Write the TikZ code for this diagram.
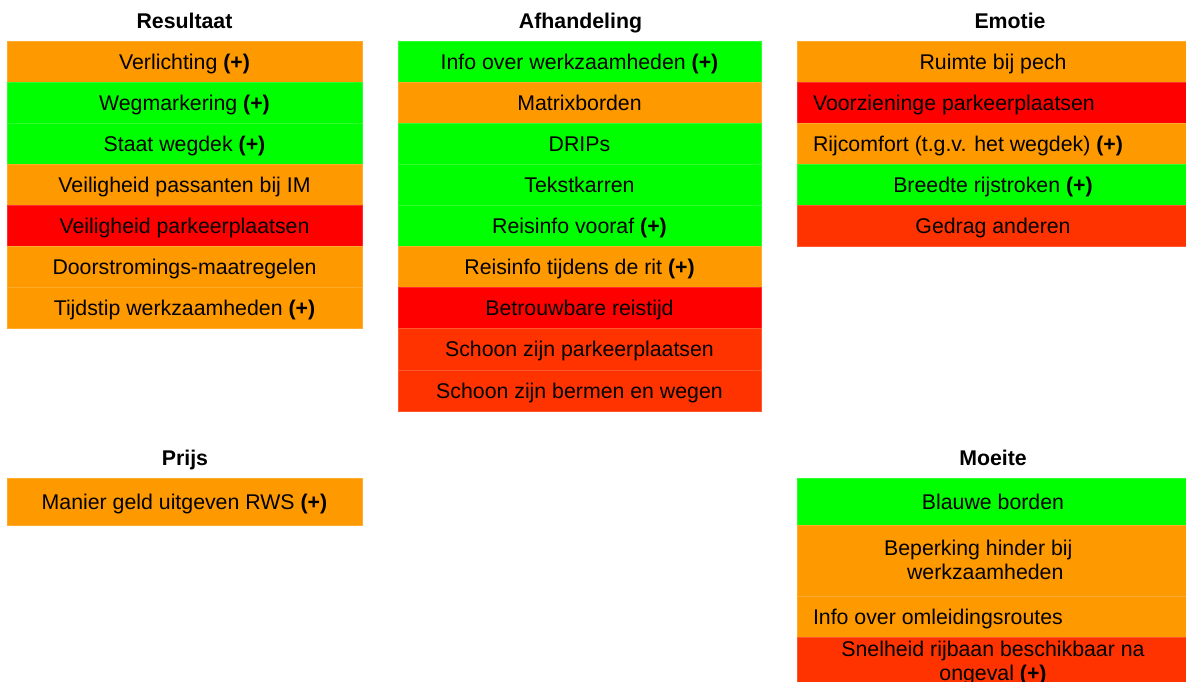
\documentclass[tikz,border=0pt]{standalone}
\usepackage{fontspec}
\setmainfont{Liberation Sans}
\definecolor{cOr}{HTML}{FF9900}
\definecolor{cGr}{HTML}{00FF00}
\definecolor{cRd}{HTML}{FF0000}
\definecolor{cRo}{HTML}{FF3300}
\tikzset{
  cellbox/.style={rectangle, fill=#1, draw=#1!82!white, line width=0.5pt,
    inner sep=0pt, outer sep=0pt, text height=15.3pt, text depth=0pt,
    font=\fontsize{21.3}{24}\selectfont, text=black},
  colL/.style={minimum width=355pt, minimum height=41.1pt},
  colM/.style={minimum width=363pt, minimum height=41.1pt},
  colR/.style={minimum width=392pt, minimum height=41.1pt},
  title/.style={anchor=base, inner sep=0pt, font=\fontsize{21.3}{24}\selectfont\bfseries},
  multitext/.style={anchor=north, inner sep=0pt, align=center, font=\fontsize{21.3}{24}\selectfont}
}
\begin{document}
\begin{tikzpicture}[x=1pt,y=-1pt]
\useasboundingbox (0,0) rectangle (1186,681);
\fill[white] (0,0) rectangle (1186,681);
\begin{scope}
\clip (0,0) rectangle (1186,681);
% Titles
\node[title] (tRes) at (184.5,28) {Resultaat};
\node[title] (tAfh) at (580.5,28) {Afhandeling};
\node[title] (tEmo) at (1010,28) {Emotie};
\node[title] (tPrijs) at (185,465) {Prijs};
\node[title] (tMoe) at (993,465) {Moeite};
% Resultaat
\node[cellbox=cOr, colL] (r1) at (184.5,61.55) {Verlichting \textbf{(+)}};
\node[cellbox=cGr, colL] (r2) at (184.5,102.65) {Wegmarkering \textbf{(+)}};
\node[cellbox=cGr, colL] (r3) at (184.5,143.75) {Staat wegdek \textbf{(+)}};
\node[cellbox=cOr, colL] (r4) at (184.5,184.85) {Veiligheid passanten bij IM};
\node[cellbox=cRd, colL] (r5) at (184.5,225.95) {Veiligheid parkeerplaatsen};
\node[cellbox=cOr, colL] (r6) at (184.5,267.05) {Doorstromings-maatregelen};
\node[cellbox=cOr, colL] (r7) at (184.5,308.15) {Tijdstip werkzaamheden \textbf{(+)}};
% Afhandeling
\node[cellbox=cGr, colM] (a1) at (579.5,61.55) {Info over werkzaamheden \textbf{(+)}};
\node[cellbox=cOr, colM] (a2) at (579.5,102.65) {Matrixborden};
\node[cellbox=cGr, colM] (a3) at (579.5,143.75) {DRIPs};
\node[cellbox=cGr, colM] (a4) at (579.5,184.85) {Tekstkarren};
\node[cellbox=cGr, colM] (a5) at (579.5,225.95) {Reisinfo vooraf \textbf{(+)}};
\node[cellbox=cOr, colM] (a6) at (579.5,267.05) {Reisinfo tijdens de rit \textbf{(+)}};
\node[cellbox=cRd, colM] (a7) at (579.5,308.15) {Betrouwbare reistijd};
\node[cellbox=cRo, colM] (a8) at (579.5,349.25) {Schoon zijn parkeerplaatsen};
\node[cellbox=cRo, colM] (a9) at (579.5,390.35) {Schoon zijn bermen en wegen};
% Emotie
\node[cellbox=cOr, colR] (e1) at (993,61.55) {Ruimte bij pech};
\node[cellbox=cRd, colR] (e2) at (993,102.65) {\makebox[360pt][l]{Voorzieninge parkeerplaatsen}};
\node[cellbox=cOr, colR] (e3) at (993,143.75) {\makebox[360pt][l]{Rijcomfort (t.g.v. het wegdek) \textbf{(+)}}};
\node[cellbox=cGr, colR] (e4) at (993,184.85) {Breedte rijstroken \textbf{(+)}};
\node[cellbox=cRo, colR] (e5) at (993,225.95) {Gedrag anderen};
% Prijs
\node[cellbox=cOr, colL, minimum height=47pt] (p1) at (184.5,501.5) {Manier geld uitgeven RWS \textbf{(+)}};
% Moeite
\node[cellbox=cGr, colR, minimum height=47pt] (m1) at (993,501.5) {Blauwe borden};
\node[cellbox=cOr, colR, minimum height=71pt] (m2) at (993,560.5) {};
\node[multitext] (m2t) at (981.75,539.7) {Beperking hinder bij\hspace*{7pt}\\\hspace*{7pt}werkzaamheden};
\node[cellbox=cOr, colR] (m3) at (993,616.5) {\makebox[360pt][l]{Info over omleidingsroutes}};
\node[cellbox=cRo, colR, minimum height=70pt] (m4) at (993,672) {};
\node[multitext] (m4t) at (993,640.7) {Snelheid rijbaan beschikbaar na\\ongeval \textbf{(+)}};
\end{scope}
\end{tikzpicture}
\end{document}
